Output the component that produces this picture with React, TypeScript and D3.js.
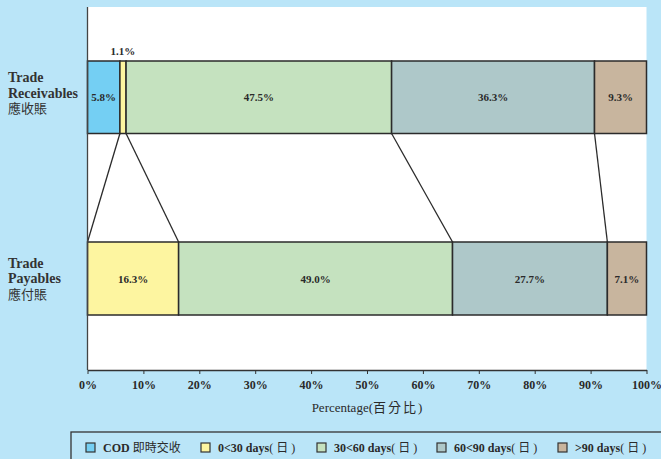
import React, { useEffect, useRef } from 'react';
import * as d3 from 'd3';

const categories = ['COD', '0<30 days', '30<60 days', '60<90 days', '>90 days'];
const categoriesZh = ['即時交收', '(日)', '(日)', '(日)', '(日)'];
const receivables = [5.8, 1.1, 47.5, 36.3, 9.3];
const payables = [0, 16.3, 49.0, 27.7, 7.1];
const ticks = [0, 10, 20, 30, 40, 50, 60, 70, 80, 90, 100];
const colors = ['#74cff3', '#fdf5a0', '#c5e2bf', '#aec8c9', '#c8b59e'];

const SERIF = '"Liberation Serif", "Noto Sans CJK TC", serif';

const App: React.FC = () => {
  const svgRef = useRef<SVGSVGElement>(null);

  useEffect(() => {
    if (!svgRef.current) return;
    const svg = d3.select(svgRef.current);
    svg.selectAll('*').remove();

    const width = 661;
    const height = 459;
    const plot = { left: 87.5, right: 646.5, top: 7, bottom: 370 };

    svg.append('rect').attr('width', width).attr('height', height).attr('fill', '#bae5f8');
    svg.append('rect')
      .attr('x', plot.left).attr('y', plot.top)
      .attr('width', plot.right - plot.left).attr('height', plot.bottom - plot.top)
      .attr('fill', '#ffffff');

    const x = d3.scaleLinear().domain([0, 100]).range([plot.left, plot.right]);

    const rows = [
      { name: ['Trade', 'Receivables', '應收賬'], values: receivables, y0: 61, y1: 133.5 },
      { name: ['Trade', 'Payables', '應付賬'], values: payables, y0: 242, y1: 315 },
    ];

    const cum = (vals: number[]) => {
      const out: number[] = [0];
      vals.forEach(v => out.push(out[out.length - 1] + v));
      return out;
    };

    // connector lines between matching segment boundaries
    const cr = cum(receivables);
    const cp = cum(payables);
    for (let i = 1; i < categories.length; i++) {
      svg.append('line')
        .attr('x1', x(cr[i])).attr('y1', rows[0].y1)
        .attr('x2', x(Math.min(cp[i], 100))).attr('y2', rows[1].y0)
        .attr('stroke', '#2b2b2b').attr('stroke-width', 1.3);
    }

    rows.forEach(row => {
      const c = cum(row.values);
      row.values.forEach((v, i) => {
        if (v <= 0) return;
        const x0 = x(c[i]);
        const x1 = x(Math.min(c[i + 1], 100));
        svg.append('rect')
          .attr('x', x0).attr('y', row.y0)
          .attr('width', x1 - x0).attr('height', row.y1 - row.y0)
          .attr('fill', colors[i])
          .attr('stroke', '#2b2b2b').attr('stroke-width', 1.5);
        const inside = x1 - x0 > 25;
        svg.append('text')
          .attr('x', (x0 + x1) / 2)
          .attr('y', inside ? (row.y0 + row.y1) / 2 + 4 : row.y0 - 6)
          .attr('text-anchor', 'middle')
          .attr('font-family', SERIF).attr('font-weight', 'bold').attr('font-size', 11)
          .attr('fill', '#2a2a2a')
          .text(`${v.toFixed(1)}%`);
      });
    });

    // row labels
    const labelY = [[82, 97.5, 113], [268, 283, 299]];
    rows.forEach((row, r) => {
      row.name.forEach((t, k) => {
        svg.append('text')
          .attr('x', 8).attr('y', labelY[r][k])
          .attr('font-family', SERIF)
          .attr('font-weight', k < 2 ? 'bold' : 'normal')
          .attr('font-size', k < 2 ? 14 : 13)
          .attr('fill', '#333')
          .text(t);
      });
    });

    // axes
    svg.append('line')
      .attr('x1', plot.left).attr('x2', plot.left).attr('y1', plot.top).attr('y2', plot.bottom)
      .attr('stroke', '#444').attr('stroke-width', 1.3);

    const axis = svg.append('g')
      .attr('transform', `translate(0,${plot.bottom})`)
      .call(d3.axisBottom(x).tickValues(ticks).tickSize(4).tickSizeOuter(0).tickFormat(d => `${d}%`));
    axis.select('.domain').attr('stroke', '#333').attr('stroke-width', 1.3);
    axis.selectAll('.tick line').attr('stroke', '#333');
    axis.selectAll('.tick text')
      .attr('font-family', SERIF).attr('font-weight', 'bold').attr('font-size', 12)
      .attr('fill', '#2a2a2a').attr('dy', '0').attr('y', 19);

    const title = svg.append('text')
      .attr('x', (plot.left + plot.right) / 2).attr('y', 412)
      .attr('text-anchor', 'middle')
      .attr('font-family', SERIF).attr('font-size', 13).attr('fill', '#2a2a2a');
    title.append('tspan').text('Percentage(');
    title.append('tspan').attr('letter-spacing', 2).text('百分比');
    title.append('tspan').text(')');

    // legend
    svg.append('rect')
      .attr('x', 71).attr('y', 432).attr('width', 620).attr('height', 60)
      .attr('fill', 'none').attr('stroke', '#333').attr('stroke-width', 1.3);
    const legendX = [86, 201, 317, 437, 558];
    categories.forEach((c, i) => {
      svg.append('rect')
        .attr('x', legendX[i]).attr('y', 443).attr('width', 9).attr('height', 9)
        .attr('fill', colors[i]).attr('stroke', '#333').attr('stroke-width', 1.2);
      const t = svg.append('text')
        .attr('x', legendX[i] + 17).attr('y', 452)
        .attr('font-family', SERIF).attr('font-size', 12)
        .attr('fill', '#2a2a2a');
      t.append('tspan').attr('font-weight', 'bold').text(i === 0 ? c + ' ' : c);
      t.append('tspan').attr('font-weight', 'normal').attr('letter-spacing', i === 0 ? 0 : 3).text(categoriesZh[i]);
    });
  }, []);

  return (
    <svg ref={svgRef} width={661} height={459} style={{ position: 'absolute', left: 0, top: 0 }} />
  );
};

export default App;
